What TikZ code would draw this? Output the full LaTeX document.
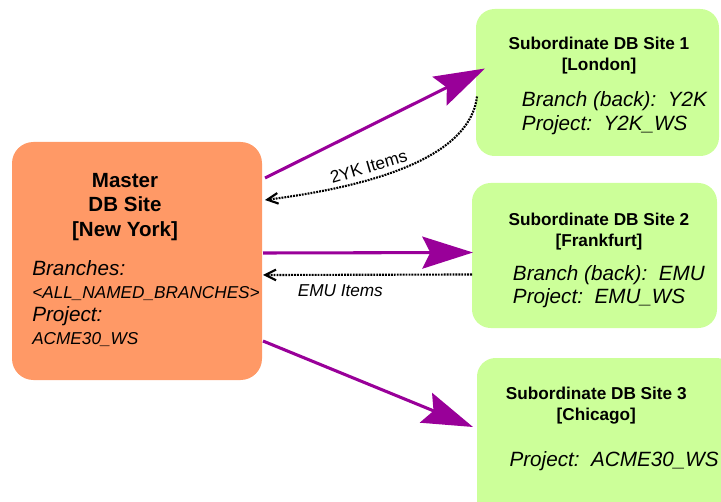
\documentclass[tikz,border=0pt]{standalone}
\usepackage{fontspec}
\setmainfont{Liberation Sans}
\usetikzlibrary{arrows.meta,calc}

\definecolor{masterorange}{HTML}{FF9966}
\definecolor{sitegreen}{HTML}{CCFF99}
\definecolor{pushpurple}{HTML}{990099}

\begin{document}
\begin{tikzpicture}[
  x=0.75pt, y=-0.75pt,
  box/.style={inner sep=0pt, outer sep=0pt},
  master/.style={box, rounded corners=16pt, fill=masterorange, minimum width=187.5pt, minimum height=178.5pt},
  site/.style={box, rounded corners=14pt, fill=sitegreen},
  head/.style={font=\bfseries\fontsize{12.9}{15.75}\selectfont, align=center, inner sep=0pt, anchor=north},
  detail/.style={font=\itshape\fontsize{15.5}{17.6}\selectfont, align=left, inner sep=0pt, anchor=north west},
  note/.style={font=\fontsize{12.9}{15}\selectfont, inner sep=0pt},
  push/.style={-{Stealth[length=38pt,width=24pt,inset=6pt]}, line width=2.3pt, draw=pushpurple},
  pull/.style={-{Straight Barb[length=8pt,width=8pt]}, line width=1.6pt, dash pattern=on 1.4pt off 0.8pt}
]
\clip (0,0) rectangle (721,502);

% boxes
\node[master] (master) at (137,261) {};
\node[site, minimum width=182.25pt, minimum height=110.25pt] (site1) at (597.5,82.5) {};
\node[site, minimum width=183.75pt, minimum height=108.75pt] (site2) at (594.5,255.5) {};
\node[site, minimum width=193.5pt, minimum height=121.5pt] (site3) at (606,439) {};

% texts
\node[head, font=\bfseries\fontsize{15.4}{18.4}\selectfont] (mhead) at (125,173) {Master\\DB Site\\{}[New York]};
\node[detail, font=\itshape\fontsize{15.5}{17.4}\selectfont] (mdetail) at (32,260)
  {Branches:\\{\fontsize{12.9}{17.4}\selectfont <ALL\_NAMED\_BRANCHES>}\\Project:\\{\fontsize{12.9}{17.4}\selectfont ACME30\_WS}};

\node[head] (head1) at (599,36.7) {Subordinate DB Site 1\\{}[London]};
\node[detail] (detail1) at (521.7,91.7) {Branch (back):~~Y2K\\Project:~~Y2K\_WS};

\node[head] (head2) at (599,212.7) {Subordinate DB Site 2\\{}[Frankfurt]};
\node[detail] (detail2) at (512.7,265) {Branch (back):~~EMU\\Project:~~EMU\_WS};

\node[head] (head3) at (596.3,386.7) {Subordinate DB Site 3\\{}[Chicago]};
\node[detail] (detail3) at (509.3,451.7) {Project:~~ACME30\_WS};

% replication
\draw[push] ($(master.north east)+(3,36)$) -- ($(site1.west)+(9,-14)$);
\draw[push] ($(master.east)+(1,-8)$) -- ($(site2.west)+(1,-3)$);
\draw[push] ($(master.south east)+(1,-39)$) -- ($(site3.west)+(-4,-12)$);

% items coming back
\draw[pull] ($(site1.west)+(1,14)$) .. controls +(-5,43) and +(155,-20) ..
  node[pos=0.72, sloped, above=4pt, note] {2YK Items} ($(master.north east)+(3,58)$);
\draw[pull] ($(site2.west)+(0,19)$) --
  node[pos=0.63, below=6.5pt, note, font=\itshape\fontsize{12.9}{15}\selectfont] {EMU Items} ($(master.east)+(1,14)$);

\end{tikzpicture}
\end{document}
